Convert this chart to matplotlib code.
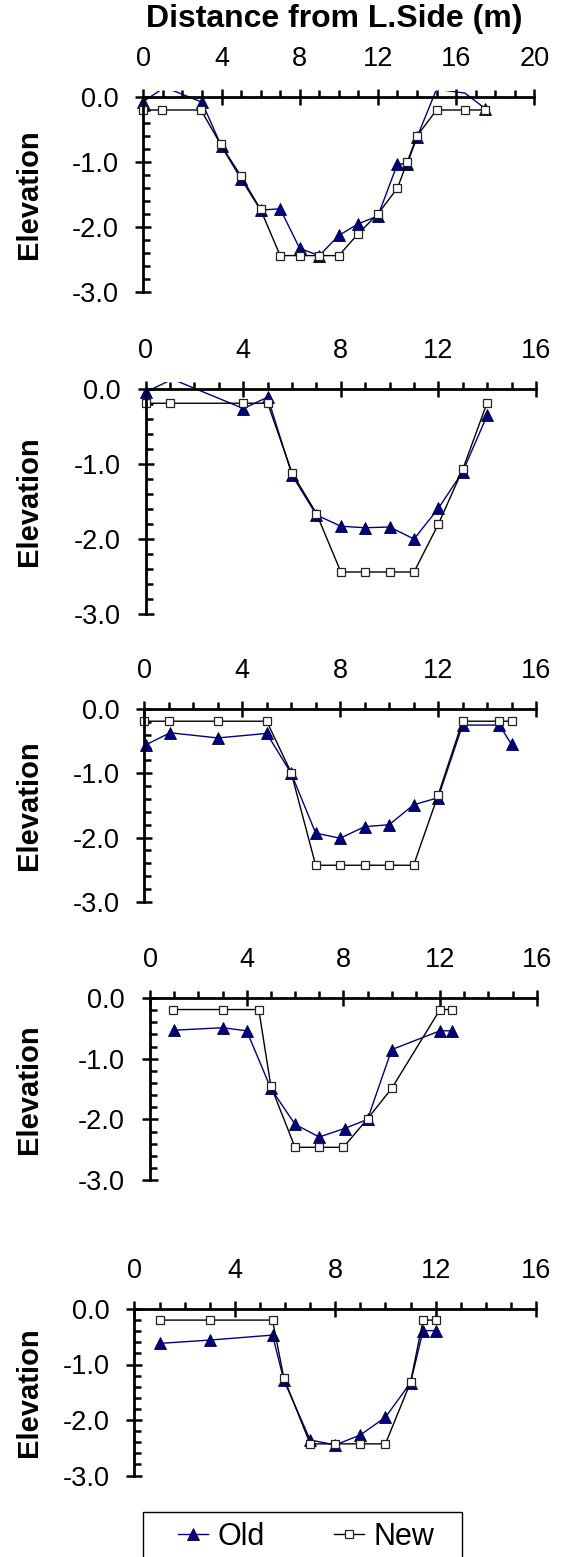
import matplotlib
matplotlib.use("Agg")
import matplotlib.pyplot as plt
import numpy as np
from matplotlib.patches import Rectangle
from matplotlib.lines import Line2D

plt.rcParams['font.family'] = ['Liberation Sans', 'DejaVu Sans']
plt.rcParams['axes.unicode_minus'] = False

# ---------------- data ----------------
p1_old_x = [0, 1.1, 3.0, 4.0, 5.0, 6.0, 7.0, 8.0, 9.0, 10.0, 11.0, 12.0, 13.0, 13.5, 14.0, 15.0, 16.45, 17.5]
p1_old_y = [-0.07, 0.15, -0.08, -0.76, -1.26, -1.74, -1.72, -2.33, -2.44, -2.13, -1.95, -1.83, -1.03, -1.03, -0.62, 0.12, 0.06, -0.18]
p1_new_x = [0, 0.95, 2.95, 3.96, 5.0, 6.0, 7.0, 8.0, 9.0, 10.0, 11.0, 12.0, 13.0, 13.5, 14.0, 15.0, 16.45, 17.5]
p1_new_y = [-0.2, -0.2, -0.2, -0.73, -1.22, -1.73, -2.44, -2.44, -2.44, -2.44, -2.1, -1.8, -1.4, -1.0, -0.6, -0.2, -0.2, -0.2]

p2_old_x = [0, 1.1, 4.0, 5.0, 6.0, 7.0, 8.0, 9.0, 10.0, 11.0, 12.0, 13.0, 14.0]
p2_old_y = [-0.04, 0.13, -0.26, -0.11, -1.15, -1.68, -1.83, -1.85, -1.84, -2.0, -1.59, -1.1, -0.35]
p2_new_x = [0, 1.0, 4.0, 5.0, 6.0, 7.0, 8.0, 9.0, 10.0, 11.0, 12.0, 13.0, 14.0]
p2_new_y = [-0.19, -0.19, -0.19, -0.19, -1.12, -1.66, -2.44, -2.44, -2.44, -2.44, -1.8, -1.07, -0.18]

p3_old_x = [0.05, 1.05, 3.0, 5.0, 6.0, 7.0, 8.0, 9.0, 10.0, 11.0, 12.0, 13.0, 14.5, 15.0]
p3_old_y = [-0.56, -0.37, -0.45, -0.38, -1.0, -1.93, -2.01, -1.83, -1.80, -1.49, -1.38, -0.25, -0.25, -0.55]
p3_new_x = [0, 1.0, 3.0, 5.0, 6.0, 7.0, 8.0, 9.0, 10.0, 11.0, 12.0, 13.0, 14.5, 15.0]
p3_new_y = [-0.19, -0.19, -0.19, -0.19, -0.99, -2.43, -2.43, -2.43, -2.43, -2.43, -1.34, -0.19, -0.19, -0.19]

p4_old_x = [1.0, 3.0, 4.0, 5.0, 6.0, 7.0, 8.05, 9.0, 10.0, 12.0, 12.5]
p4_old_y = [-0.53, -0.49, -0.54, -1.49, -2.08, -2.29, -2.15, -2.0, -0.85, -0.54, -0.54]
p4_new_x = [0.95, 3.0, 4.5, 5.0, 6.0, 7.0, 8.0, 9.0, 10.0, 12.0, 12.5]
p4_new_y = [-0.19, -0.19, -0.19, -1.45, -2.46, -2.46, -2.46, -1.99, -1.49, -0.19, -0.19]

p5_old_x = [1.0, 3.0, 5.5, 5.95, 7.0, 8.0, 9.0, 10.0, 11.0, 11.5, 12.0]
p5_old_y = [-0.62, -0.56, -0.47, -1.28, -2.36, -2.45, -2.27, -1.95, -1.33, -0.39, -0.39]
p5_new_x = [1.0, 3.0, 5.5, 5.95, 7.0, 8.0, 9.0, 10.0, 11.0, 11.5, 12.0]
p5_new_y = [-0.2, -0.2, -0.2, -1.24, -2.43, -2.43, -2.43, -2.43, -1.32, -0.2, -0.2]

x_max = [20, 16, 16, 16, 16]
y_ticks = [-3.0, -2.0, -1.0, 0.0]
y_tick_labels = ['-3.0', '-2.0', '-1.0', '0.0']
series_names = ['Old', 'New']
x_title = 'Distance from L.Side (m)'
y_title = 'Elevation'

panels = [
    (p1_old_x, p1_old_y, p1_new_x, p1_new_y),
    (p2_old_x, p2_old_y, p2_new_x, p2_new_y),
    (p3_old_x, p3_old_y, p3_new_x, p3_new_y),
    (p4_old_x, p4_old_y, p4_new_x, p4_new_y),
    (p5_old_x, p5_old_y, p5_new_x, p5_new_y),
]

# ---------------- layout (pixels) ----------------
W, H = 564, 1557
# (x of value 0, x of value xmax, y of value 0, px per unit in y)
layout = [
    (143.3, 534.3, 97.0, 65.0),
    (145.7, 536.0, 389.0, 75.0),
    (144.3, 536.0, 709.0, 64.3),
    (150.0, 536.7, 998.0, 60.7),
    (134.5, 536.0, 1309.0, 55.5),
]

OLD_C = '#000080'
fig = plt.figure(figsize=(W / 100, H / 100), dpi=100)

TICK_FS = 19.5
for (ox, oy, nx, ny), xm, (x0, x1, y0, sy) in zip(panels, x_max, layout):
    xlo, xhi = -0.6, xm + 0.3
    ylo, yhi = -3.15, 0.1
    sx = (x1 - x0) / xm
    left_px = x0 + xlo * sx
    width_px = (xhi - xlo) * sx
    top_px = y0 - yhi * sy
    bot_px = y0 - ylo * sy
    ax = fig.add_axes([left_px / W, 1 - bot_px / H, width_px / W, (bot_px - top_px) / H])
    ax.set_xlim(xlo, xhi)
    ax.set_ylim(ylo, yhi)
    ax.patch.set_visible(False)

    ox_a, oy_a = np.array(ox), np.array(oy)
    nx_a, ny_a = np.array(nx), np.array(ny)
    # lines
    ax.plot(ox_a, oy_a, color=OLD_C, lw=1.0, zorder=3)
    ax.plot(nx_a, ny_a, color='black', lw=1.0, zorder=4)
    # markers (points above the axis maximum are not drawn)
    mo = oy_a <= 0
    ax.plot(ox_a[mo], oy_a[mo], ls='none', marker='^', ms=9, mfc=OLD_C,
            mec='#000030', mew=0.6, zorder=3.5)
    mn = ny_a <= 0
    ax.plot(nx_a[mn], ny_a[mn], ls='none', marker='s', ms=5.8, mfc='white',
            mec='#222222', mew=0.9, zorder=4.5)

    for s in ['right', 'bottom']:
        ax.spines[s].set_visible(False)
    ax.spines['top'].set_position(('data', 0))
    ax.spines['top'].set_bounds(0, xm)
    ax.spines['left'].set_position(('data', 0))
    ax.spines['left'].set_bounds(-3, 0)
    for s in ['top', 'left']:
        ax.spines[s].set_linewidth(2.0)
        ax.spines[s].set_zorder(5)

    ax.xaxis.set_ticks_position('top')
    ax.set_xticks(np.arange(0, xm + 1, 4))
    ax.set_xticks(np.arange(0, xm + 1, 1), minor=True)
    ax.set_xticklabels([str(int(v)) for v in np.arange(0, xm + 1, 4)])
    ax.set_yticks(y_ticks)
    ax.set_yticklabels(y_tick_labels)
    ax.set_yticks(np.arange(-3.0, 0.01, 0.2), minor=True)

    ax.tick_params(axis='x', which='major', direction='inout', length=11.5, width=1.8,
                   pad=12.5, labelsize=TICK_FS)
    ax.tick_params(axis='x', which='minor', direction='out', length=4.7, width=1.8)
    ax.tick_params(axis='y', which='major', direction='inout', length=11, width=1.8,
                   pad=12.5, labelsize=TICK_FS)
    ax.tick_params(axis='y', which='minor', direction='in', length=4.7, width=1.8)

    yc = y0 + 1.5 * sy
    fig.text(29 / W, 1 - yc / H, y_title, rotation=90, ha='center', va='center',
             fontsize=21, fontweight='bold')

fig.text(334 / W, 1 - 19 / H, x_title, ha='center', va='center',
         fontsize=23, fontweight='bold')

# legend
rect = Rectangle((143 / W, 1 - 1575 / H), (462 - 143) / W, (1575 - 1512) / H,
                 transform=fig.transFigure, fill=False, edgecolor='black', lw=1.0,
                 clip_on=False)
fig.patches.append(rect)
handles = [
    Line2D([], [], color=OLD_C, lw=1.0, marker='^', ms=9, mfc=OLD_C, mec='#000030', mew=0.6),
    Line2D([], [], color='black', lw=1.0, marker='s', ms=5.8, mfc='white', mec='#222222', mew=0.9),
]
fig.legend(handles, series_names, loc='center', bbox_to_anchor=(306 / W, 1 - 1537 / H),
           ncol=2, frameon=False, fontsize=22, handlelength=1.0, handletextpad=0.3,
           columnspacing=2.25, borderpad=0)

fig.savefig('out.png', dpi=100)
